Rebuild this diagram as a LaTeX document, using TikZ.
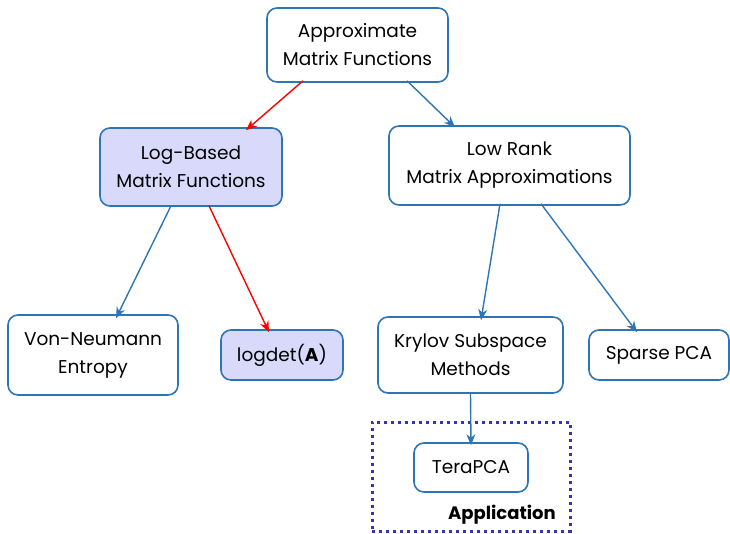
\documentclass[tikz,border=0pt]{standalone}
\usepackage{fontspec}
\setmainfont{Poppins}
\usetikzlibrary{arrows.meta}
\definecolor{edgeblue}{HTML}{2E75B6}
\definecolor{lavender}{HTML}{D9D9FB}
\definecolor{appblue}{HTML}{3535B0}
\tikzset{
  box/.style={draw=edgeblue, line width=1.6pt, rounded corners=10pt, fill=white,
    align=center, inner sep=0pt, font=\fontsize{18.5}{28}\selectfont},
  hibox/.style={box, fill=lavender},
  link/.style={draw=edgeblue, line width=1.4pt, -{Stealth[length=11pt,width=9pt]}},
  redlink/.style={link, draw=red, -{Stealth[length=11pt,width=9pt,fill=red]}},
}
\begin{document}
\begin{tikzpicture}[x=1pt,y=-1pt]
\useasboundingbox (0,0) rectangle (730,534);
\node[box, minimum width=181pt, minimum height=74pt] (top) at (357.5,45) {Approximate\\Matrix Functions};
\node[hibox, minimum width=182pt, minimum height=78pt] (log) at (191,167) {Log-Based\\Matrix Functions};
\node[box, minimum width=241pt, minimum height=79pt] (low) at (509.5,165.5) {Low Rank\\Matrix Approximations};
\node[box, minimum width=170pt, minimum height=80pt] (von) at (93,355) {Von-Neumann\\Entropy};
\node[hibox, minimum width=122pt, minimum height=50pt] (ldet) at (282,355) {logdet(\textbf{A})};
\node[box, minimum width=185pt, minimum height=76pt] (kry) at (470.5,355) {Krylov Subspace\\Methods};
\node[box, minimum width=140pt, minimum height=50pt] (spa) at (659,355) {Sparse PCA};
\node[box, minimum width=114pt, minimum height=49pt] (tera) at (471,467.5) {TeraPCA};
\node[draw=appblue, line width=3pt, dash pattern=on 3pt off 4pt, minimum width=198pt, minimum height=109pt, inner sep=0pt] (app) at (471,476.5) {};
\node[anchor=base east, font=\fontsize{18}{20}\selectfont\bfseries, inner sep=0pt] (applabel) at (556,519) {Application};

\draw[redlink] ([xshift=-54.5pt,yshift=2pt]top.south) -- ([xshift=55pt,yshift=-3pt]log.north);
\draw[link] ([xshift=49.5pt,yshift=2pt]top.south) -- ([xshift=-54.5pt,yshift=-2pt]low.north);
\draw[link] ([xshift=-20pt,yshift=1pt]log.south) -- ([xshift=23pt,yshift=-4pt]von.north);
\draw[redlink] ([xshift=18pt,yshift=1pt]log.south) -- ([xshift=-13pt,yshift=-3pt]ldet.north);
\draw[link] ([xshift=-9.5pt,yshift=2pt]low.south) -- ([xshift=10.5pt,yshift=-4pt]kry.north);
\draw[link] ([xshift=31.5pt,yshift=2pt]low.south) -- ([xshift=-22pt,yshift=-3pt]spa.north);
\draw[link] (kry.south) -- ([yshift=-3pt]tera.north);
\end{tikzpicture}
\end{document}
